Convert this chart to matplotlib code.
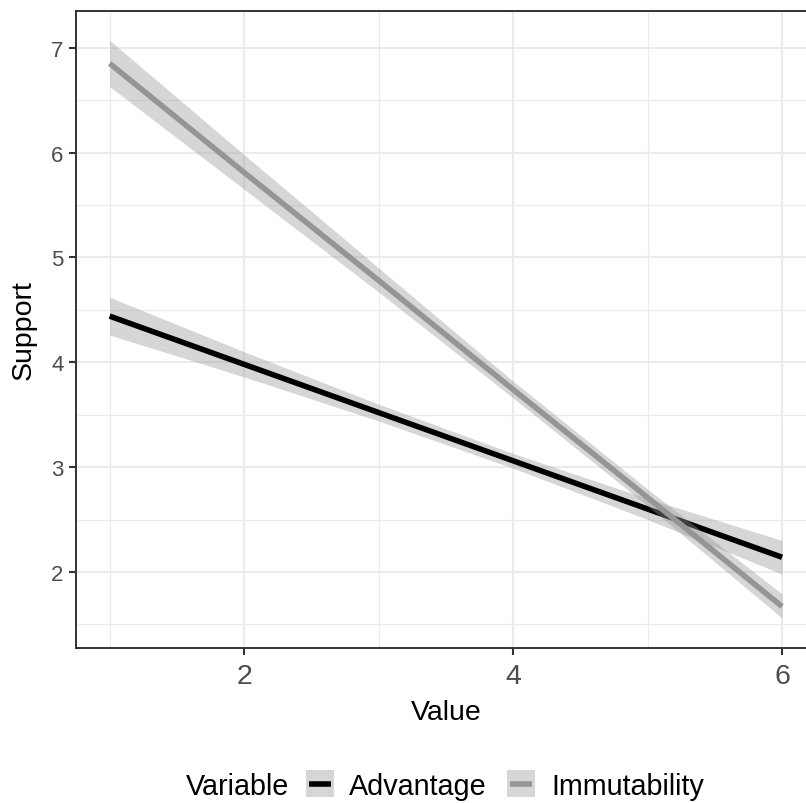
import matplotlib
matplotlib.use("Agg")
import matplotlib.pyplot as plt
from matplotlib.patches import Rectangle
from matplotlib.lines import Line2D

plt.rcParams['font.family'] = ['Liberation Sans', 'DejaVu Sans']

# ---- data ----
x_vals = [1, 2, 3, 4, 5, 6]
adv_fit = [4.44, 3.98, 3.52, 3.06, 2.60, 2.14]
adv_lower = [4.26, 3.86, 3.44, 2.99, 2.50, 1.98]
adv_upper = [4.62, 4.10, 3.60, 3.13, 2.70, 2.30]
imm_fit = [6.85, 5.81, 4.78, 3.74, 2.71, 1.67]
imm_lower = [6.63, 5.65, 4.67, 3.66, 2.63, 1.56]
imm_upper = [7.07, 5.98, 4.90, 3.82, 2.79, 1.79]
series_names = ["Advantage", "Immutability"]
legend_title = "Variable"
x_ticks = [2, 4, 6]
y_ticks = [2, 3, 4, 5, 6, 7]
x_minor = [1, 3, 5]
y_minor = [1.5, 2.5, 3.5, 4.5, 5.5, 6.5]

W, H = 806, 804
fig = plt.figure(figsize=(W / 100, H / 100), dpi=100)
fig.patch.set_facecolor('white')

left, right, top, bottom = 76, 815.7, 12, 649
ax = fig.add_axes([left / W, 1 - bottom / H, (right - left) / W, (bottom - top) / H])
ax.set_xlim(0.75, 6.25)
ax.set_ylim(1.2745, 7.35)

grid_c = '#EBEBEB'
for v in x_minor:
    ax.axvline(v, color=grid_c, lw=0.9, zorder=0)
for v in y_minor:
    ax.axhline(v, color=grid_c, lw=0.9, zorder=0)
for v in x_ticks:
    ax.axvline(v, color=grid_c, lw=1.5, zorder=0)
for v in y_ticks:
    ax.axhline(v, color=grid_c, lw=1.5, zorder=0)

ribbon_c = '#999999'
ax.fill_between(x_vals, adv_lower, adv_upper, color=ribbon_c, alpha=0.4, lw=0, zorder=2)
ax.plot(x_vals, adv_fit, color='black', lw=4.0, solid_capstyle='butt', zorder=3)
ax.fill_between(x_vals, imm_lower, imm_upper, color=ribbon_c, alpha=0.4, lw=0, zorder=4)
ax.plot(x_vals, imm_fit, color='#959595', lw=4.0, solid_capstyle='butt', zorder=5)

ax.set_xticks(x_ticks)
ax.set_yticks(y_ticks)
ax.set_xticklabels([str(t) for t in x_ticks])
ax.set_yticklabels([str(t) for t in y_ticks])
ax.tick_params(axis='both', length=5, width=1.5, color='#333333', labelcolor='#4D4D4D')
ax.tick_params(axis='y', labelsize=16, pad=4)
ax.tick_params(axis='x', labelsize=20.5, pad=5.8)
for s in ax.spines.values():
    s.set_color('#333333')
    s.set_linewidth(1.4)

ax.set_xlabel("Value", fontsize=20.5, color='black')
ax.set_ylabel("Support", fontsize=20.5, color='black')
ax.xaxis.set_label_coords(0.5, -0.0799)
ax.yaxis.set_label_coords(-0.0527, 0.5)

# ---- legend (bottom, horizontal) ----
def fx(x):
    return x / W

def fy(y):
    return 1 - y / H

fs_leg = 20.7
fig.text(fx(186), fy(795), legend_title, fontsize=fs_leg, ha='left', va='baseline')
keys = [(306, 'black', 349.3), (507, '#959595', 551.7)]
for (kx, col, tx), name in zip(keys, series_names):
    fig.add_artist(Rectangle((fx(kx), fy(798)), 28 / W, 27 / H, transform=fig.transFigure,
                             facecolor=ribbon_c, alpha=0.4, lw=0))
    fig.add_artist(Line2D([fx(kx + 3), fx(kx + 25)], [fy(784.5), fy(784.5)],
                          transform=fig.transFigure, color=col, lw=4.0, solid_capstyle='butt'))
    fig.text(fx(tx), fy(795), name, fontsize=fs_leg, ha='left', va='baseline')

fig.savefig("out.png", dpi=100, facecolor='white')
